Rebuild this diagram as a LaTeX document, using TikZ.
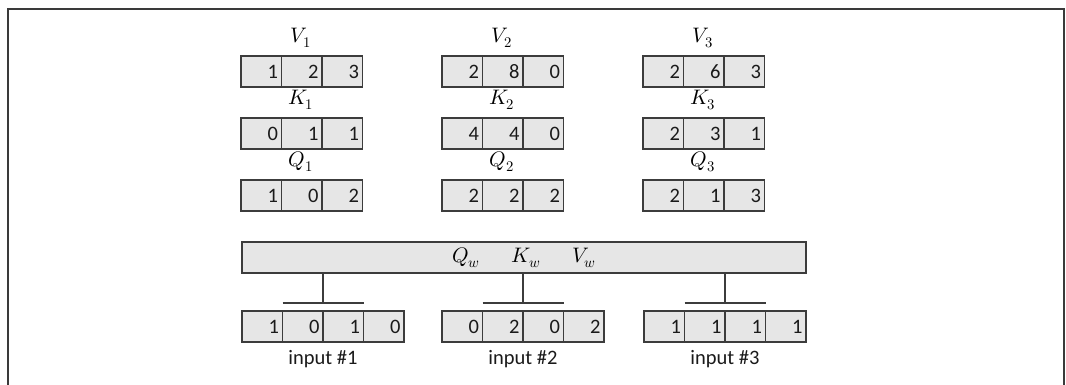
\documentclass[tikz,border=0pt]{standalone}
\usepackage{fontspec}
\usepackage{unicode-math}
\setmainfont{Carlito}
\usetikzlibrary{calc}
\definecolor{cellgray}{HTML}{E6E6E6}
\definecolor{linegray}{HTML}{3C3C3C}
\definecolor{digit}{HTML}{1A1A1A}
\definecolor{framegray}{HTML}{3A3A3A}
\tikzset{
  cell/.style={draw=linegray, fill=cellgray, line width=1.8pt, minimum width=40.5pt,
    minimum height=31pt, inner sep=0pt, outer sep=0pt, anchor=north west,
    text=digit, font=\fontsize{20.5}{20.5}\selectfont, align=right, text width=33.5pt},
  lab/.style={inner sep=0pt, text=black, font=\fontsize{21}{21}\selectfont},
  bigbox/.style={draw=linegray, fill=cellgray, line width=1.8pt, minimum width=564pt,
    minimum height=31pt, inner sep=0pt, outer sep=0pt, anchor=north west,
    font=\fontsize{21}{21}\selectfont},
  conn/.style={draw=linegray, line width=1.8pt},
  inlab/.style={inner sep=0pt, text=digit, font=\fontsize{20.5}{20.5}\selectfont},
  frame/.style={draw=framegray, line width=1.8pt}
}
\newcommand{\vecrow}[4]{%
  \foreach \v [count=\i] in {#4} {
    \node[cell] (#1-\i) at ({#2+(\i-1)*40.5},#3) {\v};
  }%
}
\begin{document}
\begin{tikzpicture}[x=1pt,y=-1pt]
\useasboundingbox (0,0) rectangle (1066,385);
% frame
\coordinate (fbl) at (8,386);
\coordinate (ftl) at (8,9);
\coordinate (ftr) at (1064,9);
\coordinate (fbr) at (1064,386);
\draw[frame] (fbl) -- (ftl) -- (ftr) -- (fbr);

% V K Q vectors
\vecrow{v1}{241}{56}{1,2,3}
\vecrow{v2}{442}{56}{2,8,0}
\vecrow{v3}{643}{56}{2,6,3}
\vecrow{k1}{241}{118}{0,1,1}
\vecrow{k2}{442}{118}{4,4,0}
\vecrow{k3}{643}{118}{2,3,1}
\vecrow{q1}{241}{180}{1,0,2}
\vecrow{q2}{442}{180}{2,2,2}
\vecrow{q3}{643}{180}{2,1,3}

\node[lab] (lv1) at (301,38) {$V_1$};
\node[lab] (lv2) at (502,38) {$V_2$};
\node[lab] (lv3) at (703,38) {$V_3$};
\node[lab] (lk1) at (301,100) {$K_1$};
\node[lab] (lk2) at (502,100) {$K_2$};
\node[lab] (lk3) at (703,100) {$K_3$};
\node[lab] (lq1) at (301,162) {$Q_1$};
\node[lab] (lq2) at (502,162) {$Q_2$};
\node[lab] (lq3) at (703,162) {$Q_3$};

% weight box
\node[bigbox] (wbox) at (242,242) {$Q_w$\hspace{32pt}$K_w$\hspace{32pt}$V_w$};

% inputs
\vecrow{in1}{242}{311}{1,0,1,0}
\vecrow{in2}{442}{311}{0,2,0,2}
\vecrow{in3}{644}{311}{1,1,1,1}

\coordinate (t1) at ($(in1-2.north east)+(0,-8)$);
\coordinate (t2) at ($(in2-2.north east)+(0,-8)$);
\coordinate (t3) at ($(in3-2.north east)+(0,-8)$);

\foreach \k in {1,2,3} {
  \draw[conn] (wbox.south -| t\k) -- (t\k);
  \draw[conn] (in\k-2.north west |- t\k) -- (in\k-3.north east |- t\k);
}

\node[inlab] (il1) at ($(in1-2.south east)+(0,17)$) {input \#1};
\node[inlab] (il2) at ($(in2-2.south east)+(0,17)$) {input \#2};
\node[inlab] (il3) at ($(in3-2.south east)+(0,17)$) {input \#3};
\end{tikzpicture}
\end{document}
